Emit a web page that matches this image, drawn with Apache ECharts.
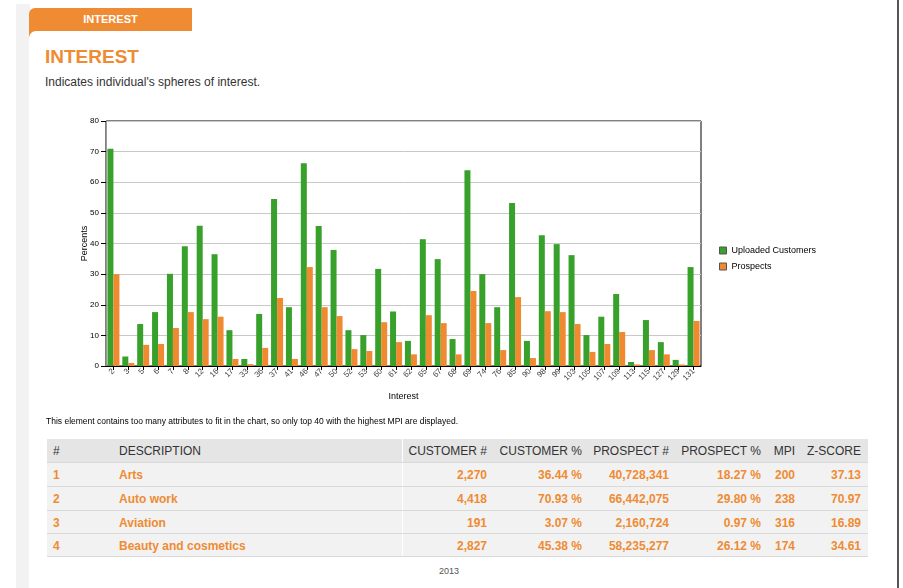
<!DOCTYPE html>
<html>
<head>
<meta charset="utf-8">
<script src="https://cdn.jsdelivr.net/npm/echarts@6/dist/echarts.min.js"></script>
<style>
  html,body{margin:0;padding:0;background:#fff;}
  body{width:903px;height:588px;position:relative;overflow:hidden;font-family:"Liberation Sans",Arial,sans-serif;}
  .abs{position:absolute;}
  #strip{left:16px;top:4px;width:14px;height:584px;background:#f2f2f2;}
  #tab{left:29px;top:8px;width:163px;height:29px;background:#ef8b33;border-top-left-radius:6px;}
  #tabtxt{left:29px;top:12px;width:163px;text-align:center;color:#fff;font-weight:bold;font-size:11px;line-height:14px;}
  #panel{left:29px;top:31px;width:868px;height:557px;background:#fff;border-top-left-radius:7px;}
  #rline{left:897px;top:0;width:2px;height:588px;background:#555;}
  #title{left:45px;top:46px;font-size:19px;font-weight:bold;color:#ef8b33;line-height:22px;}
  #sub{left:45px;top:75px;font-size:12px;color:#333;line-height:15px;}
  #chart{left:0;top:100px;width:903px;height:320px;}
  #note{left:46px;top:415px;font-size:8.5px;color:#000;line-height:12px;white-space:nowrap;}
  #tbl{left:47px;top:439px;width:821px;height:119px;}
  .row{position:absolute;left:0;width:821px;}
  .cell{position:absolute;font-size:12px;line-height:14px;white-space:nowrap;}
  .hd{color:#333;}
  .bd{color:#ef8b33;font-weight:bold;}
  #year{left:439px;top:565px;font-size:9px;color:#555;line-height:12px;}
</style>
</head>
<body>
<div id="strip" class="abs"></div>
<div id="tab" class="abs"></div>
<div id="panel" class="abs"></div>
<div id="tabtxt" class="abs">INTEREST</div>
<div id="rline" class="abs"></div>
<div id="title" class="abs">INTEREST</div>
<div id="sub" class="abs">Indicates individual's spheres of interest.</div>
<div id="chart" class="abs"></div>
<div id="note" class="abs">This element contains too many attributes to fit in the chart, so only top 40 with the highest MPI are displayed.</div>
<div id="tbl" class="abs"></div>
<div id="year" class="abs">2013</div>
<script>
// ---- chart data ----
var categories = ['2','3','5','6','7','8','12','16','17','33','36','37','41','46','47','50','52','53','60','61',
                  '62','65','67','68','69','74','76','85','90','98','99','103','105','107','109','113','115','127','129','131'];
var uploadedCustomers = [70.9,3.1,13.7,17.6,30.1,39.1,45.8,36.5,11.7,2.3,17.0,54.5,19.2,66.2,45.7,37.9,11.7,10.1,31.7,17.8,
                         8.2,41.4,34.9,8.8,63.9,30.0,19.2,53.2,8.2,42.7,39.8,36.2,10.1,16.1,23.5,1.3,15.0,7.8,2.0,32.3];
var prospects = [30.0,1.0,6.9,7.2,12.4,17.6,15.3,16.1,2.3,0.6,5.9,22.2,2.3,32.3,19.2,16.3,5.5,4.9,14.3,7.8,
                 3.8,16.6,14.0,3.8,24.5,14.0,5.2,22.5,2.6,17.9,17.6,13.7,4.6,7.2,11.1,0.5,5.2,3.8,0.5,14.7];
var seriesNames = ['Uploaded Customers','Prospects'];

// ---- table data ----
var tableHeaders = ['#','DESCRIPTION','CUSTOMER #','CUSTOMER %','PROSPECT #','PROSPECT %','MPI','Z-SCORE'];
var rowIndex = ['1','2','3','4'];
var rowDescription = ['Arts','Auto work','Aviation','Beauty and cosmetics'];
var rowCustomerNum = ['2,270','4,418','191','2,827'];
var rowCustomerPct = ['36.44 %','70.93 %','3.07 %','45.38 %'];
var rowProspectNum = ['40,728,341','66,442,075','2,160,724','58,235,277'];
var rowProspectPct = ['18.27 %','29.80 %','0.97 %','26.12 %'];
var rowMPI = ['200','238','316','174'];
var rowZScore = ['37.13','70.97','16.89','34.61'];

// build table
(function(){
  var tbl = document.getElementById('tbl');
  var ox = 47;
  var cols = [['l',53],['l',119],['r',487],['r',582],['r',669],['r',761],['r',795],['r',861]];
  var rowTops = [0,24,48,72,95];
  var rowH = [24,24,24,23,23];
  function addRow(i, bg){
    var r = document.createElement('div');
    r.className='row';
    r.style.top = rowTops[i]+'px';
    r.style.height = rowH[i]+'px';
    r.style.background = bg;
    r.style.borderBottom = '1px solid #d9d9d9';
    r.style.boxSizing='border-box';
    tbl.appendChild(r);
    var sep = document.createElement('div');
    sep.style.cssText='position:absolute;left:'+(402-ox)+'px;top:0;width:1px;height:100%;background:#fff;';
    r.appendChild(sep);
    return r;
  }
  function addCell(r, col, text, cls, h){
    var c = document.createElement('div');
    c.className = 'cell '+cls;
    c.textContent = text;
    c.style.top = ((h-14)/2)+'px';
    if (col[0]==='l') c.style.left = (col[1]-ox)+'px';
    else { c.style.right = (821-(col[1]-ox))+'px'; }
    r.appendChild(c);
  }
  var hr = addRow(0,'#e5e5e5');
  tableHeaders.forEach(function(t,j){ addCell(hr, cols[j], t, 'hd', 24); });
  for (var i=0;i<rowIndex.length;i++){
    var r = addRow(i+1,'#f2f2f2');
    var vals = [rowIndex[i],rowDescription[i],rowCustomerNum[i],rowCustomerPct[i],rowProspectNum[i],rowProspectPct[i],rowMPI[i],rowZScore[i]];
    vals.forEach(function(t,j){ addCell(r, cols[j], t, 'bd', rowH[i+1]); });
  }
})();

var chart = echarts.init(document.getElementById('chart'), null, {renderer:'canvas'});
var font = '"Liberation Sans", Arial, sans-serif';
chart.setOption({
  animation:false,
  backgroundColor:'transparent',
  textStyle:{fontFamily:font},
  grid:{left:106, top:21, width:595, height:245, show:true, borderColor:'#000', borderWidth:1, backgroundColor:'transparent'},
  legend:{
    orient:'vertical', left:714, top:141,
    data:seriesNames,
    itemWidth:7, itemHeight:7, itemGap:7,
    icon:'rect',
    textStyle:{fontSize:9, color:'#000', fontFamily:font},
    itemStyle:{borderColor:'#555', borderWidth:1}
  },
  xAxis:{
    type:'category', data:categories,
    name:'Interest', nameLocation:'middle', nameGap:26, nameMoveOverlap:false,
    nameTextStyle:{fontSize:9, color:'#000'},
    axisLine:{lineStyle:{color:'#000', width:1}},
    axisTick:{show:true, alignWithLabel:true, length:4, lineStyle:{color:'#000'}},
    axisLabel:{interval:0, rotate:45, fontSize:8, color:'#444', margin:4},
    splitLine:{show:false}
  },
  yAxis:{
    type:'value', min:0, max:80, interval:10,
    name:'Percents', nameLocation:'middle', nameGap:17, nameMoveOverlap:false,
    nameTextStyle:{fontSize:9, color:'#000'},
    axisLine:{show:true, lineStyle:{color:'#999'}},
    axisTick:{show:true, length:5, lineStyle:{color:'#000'}},
    axisLabel:{fontSize:8, color:'#000', margin:7},
    splitLine:{show:true, lineStyle:{color:'#c8c8c8'}}
  },
  series:[
    {name:seriesNames[0], type:'bar', data:uploadedCustomers, barWidth:6, barGap:'0%', itemStyle:{color:'#38a12b'}},
    {name:seriesNames[1], type:'bar', data:prospects, barWidth:6, barGap:'0%', itemStyle:{color:'#f08a31'}}
  ]
});
</script>
</body>
</html>
